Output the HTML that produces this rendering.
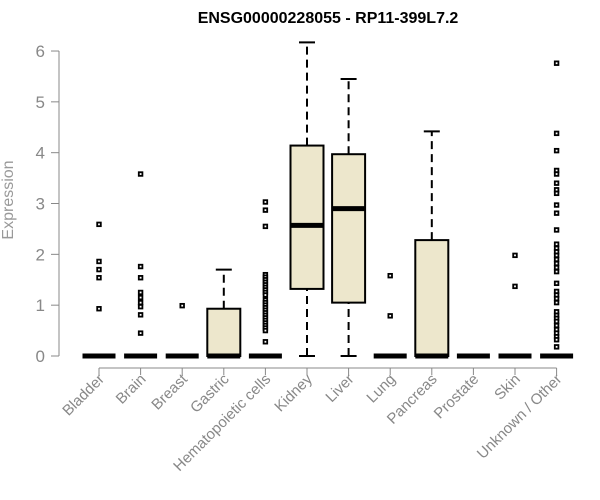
<!DOCTYPE html>
<html><head><meta charset="utf-8">
<style>
body{margin:0;background:#fff}
svg{display:block;font-family:"Liberation Sans",Arial,sans-serif}
</style></head>
<body>
<svg id="chart" width="600" height="500" viewBox="0 0 600 500">
<text x="328" y="23" text-anchor="middle" font-weight="bold" font-size="16" fill="#000">ENSG00000228055 - RP11-399L7.2</text>
<text transform="translate(13,200) rotate(-90)" text-anchor="middle" font-size="16" fill="#999">Expression</text>
<g id="yaxis"></g>
<g id="xaxis"></g>
<g id="boxes"></g>
</svg>
<script>
const categories=["Bladder","Brain","Breast","Gastric","Hematopoietic cells","Kidney","Liver","Lung","Pancreas","Prostate","Skin","Unknown / Other"];
const q1=[0,0,0,0,0,1.32,1.05,0,0,0,0,0];
const medians=[0,0,0,0,0,2.57,2.9,0,0,0,0,0];
const q3=[0,0,0,0.93,0,4.14,3.97,0,2.28,0,0,0];
const whiskerHigh=[0,0,0,1.70,0,6.17,5.45,0,4.42,0,0,0];
const outliers=[
[2.59,1.86,1.70,1.54,0.93],
[3.58,1.76,1.54,1.25,1.15,1.05,0.97,0.81,0.45],
[0.99],
[],
[3.03,2.87,2.55,1.6,1.55,1.5,1.45,1.4,1.35,1.3,1.25,1.2,1.1,1.05,1.0,0.95,0.9,0.85,0.8,0.75,0.7,0.65,0.6,0.55,0.5,0.28],
[],[],
[1.58,0.79],
[],[],
[1.98,1.37],
[5.76,4.38,4.04,3.65,3.58,3.4,3.27,3.2,2.97,2.81,2.48,2.2,2.12,2.05,1.98,1.9,1.82,1.74,1.66,1.43,1.27,1.2,1.13,1.05,0.87,0.8,0.74,0.68,0.6,0.52,0.45,0.38,0.32,0.18]
];
const yTicks=[0,1,2,3,4,5,6];
const NS="http://www.w3.org/2000/svg";
const y=v=>356-v*50.83;
const x=i=>99+i*41.6;
const bw=33;
function mk(tag,attrs,parent){const e=document.createElementNS(NS,tag);for(const k in attrs)e.setAttribute(k,attrs[k]);parent.appendChild(e);return e;}
const ya=document.getElementById('yaxis'),xa=document.getElementById('xaxis'),bx=document.getElementById('boxes');
let l=mk('line',{x1:59,x2:59,y1:y(0),y2:y(6),stroke:'#888','stroke-width':1},ya);


yTicks.forEach(t=>{
 const tk=mk('line',{x1:51,x2:59,y1:y(t),y2:y(t),stroke:'#888'},ya);
 
 
 const tx=mk('text',{x:45,y:y(t)+6,'text-anchor':'end','font-size':17,fill:'#888'},ya);
 tx.textContent=t;
 
 
});
l=mk('line',{x1:x(0),x2:x(categories.length-1),y1:368,y2:368,stroke:'#888'},xa);


categories.forEach((c,i)=>{
 const cx=x(i);
 const tk=mk('line',{x1:cx,x2:cx,y1:368,y2:375,stroke:'#888'},xa);
 
 
 const tx=mk('text',{x:0,y:0,'text-anchor':'end','font-size':15,fill:'#888',transform:`translate(${cx+6},${380}) rotate(-45)`},xa);
 tx.textContent=c;
 
 
 const g=mk('g',{},bx);
 
 
 if(whiskerHigh[i]>q3[i]){
  const w=mk('line',{x1:cx,x2:cx,y1:y(q3[i]),y2:y(whiskerHigh[i]),stroke:'#000','stroke-width':2,'stroke-dasharray':'8,5'},g);
  
  
  const cap=mk('line',{x1:cx-8,x2:cx+8,y1:y(whiskerHigh[i]),y2:y(whiskerHigh[i]),stroke:'#000','stroke-width':2},g);
  
  
 }
 if(q1[i]>0){
  const w=mk('line',{x1:cx,x2:cx,y1:y(0),y2:y(q1[i]),stroke:'#000','stroke-width':2,'stroke-dasharray':'8,5'},g);
  
  
  const cap=mk('line',{x1:cx-8,x2:cx+8,y1:y(0),y2:y(0),stroke:'#000','stroke-width':2},g);
  
  
 }
 if(q3[i]>q1[i]){
  const r=mk('rect',{x:cx-bw/2,y:y(q3[i]),width:bw,height:y(q1[i])-y(q3[i]),fill:'#ede7cc',stroke:'#000','stroke-width':2},g);
  
  
 }
 const m=mk('line',{x1:cx-bw/2,x2:cx+bw/2,y1:y(medians[i]),y2:y(medians[i]),stroke:'#000','stroke-width':5},g);
 
 
 outliers[i].forEach(v=>{
  const p=mk('rect',{x:cx-1.8,y:y(v)-1.8,width:3.6,height:3.6,fill:'#fff',stroke:'#000','stroke-width':1.8},g);
  
  
 });
});
</script>
</body></html>
